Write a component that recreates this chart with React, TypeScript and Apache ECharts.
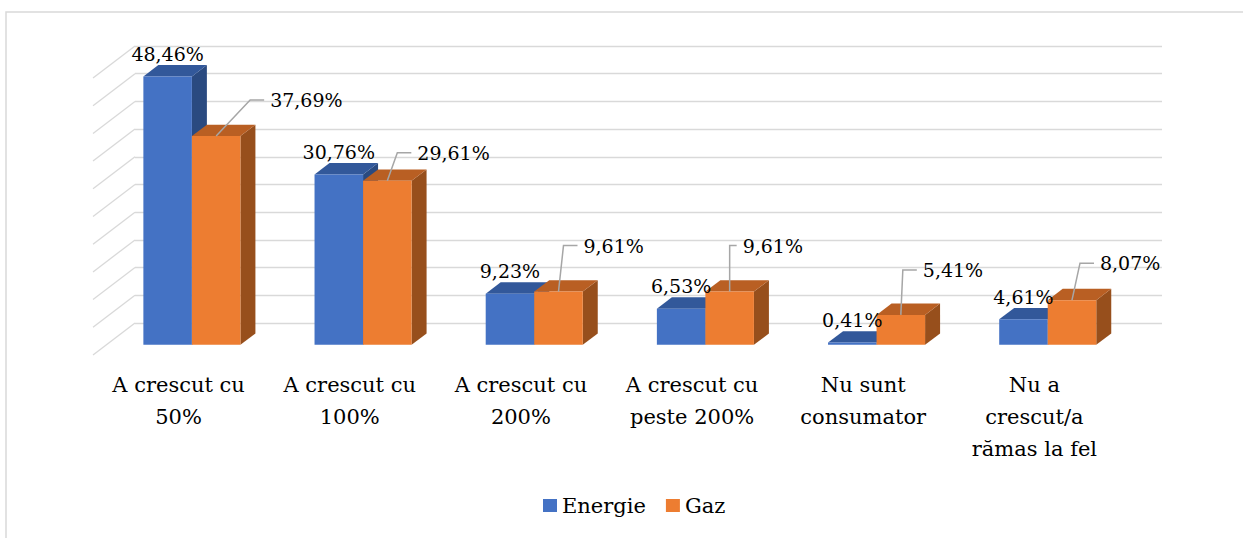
import React, { useEffect, useRef } from 'react';
import * as echarts from 'echarts';

// ---------- data ----------
const categories = [
  'A crescut cu\n50%',
  'A crescut cu\n100%',
  'A crescut cu\n200%',
  'A crescut cu\npeste 200%',
  'Nu sunt\nconsumator',
  'Nu a\ncrescut/a\nrămas la fel',
];
const seriesNames = ['Energie', 'Gaz'];
const energie = [48.46, 30.76, 9.23, 6.53, 0.41, 4.61];
const gaz = [37.69, 29.61, 9.61, 9.61, 5.41, 8.07];
const gridTicks = [0, 5, 10, 15, 20, 25, 30, 35, 40, 45, 50];

// ---------- layout / style ----------
const FONT = 'DejaVu Serif';
const DEPTH = { dx: -42, dy: 32 }; // back wall -> front edge of floor
const BAR_FRONT = 0.683;
const BAR_BACK = 0.326;
const GROUP_FRAC = 0.567;
const COLORS = [
  { front: '#4472C4', top: '#32589a', side: '#2a4a80' },
  { front: '#ED7D31', top: '#b95f23', side: '#974f1c' },
];
// manual nudges of the Gaz labels relative to the front-top centre of the bar (like Excel's placed labels)
const GAZ_LABEL_NUDGE = [
  [54, -36],
  [30, -28],
  [25, -46],
  [13, -46],
  [22, -45],
  [28, -37],
];

function fmt(v: number) {
  return v.toFixed(2).replace('.', ',') + '%';
}

function makeBarRender(s: number) {
  return (params: any, api: any) => {
    const i = api.value(0);
    const v = api.value(1);
    const base = api.coord([i, 0]);
    const top = api.coord([i, v]);
    const band = api.size([1, 0])[0];
    const w = (band * GROUP_FRAC) / 2;
    const fx = DEPTH.dx * BAR_FRONT;
    const fy = DEPTH.dy * BAR_FRONT;
    const bx = DEPTH.dx * BAR_BACK;
    const by = DEPTH.dy * BAR_BACK;
    const left = base[0] - w + s * w;
    const right = left + w;
    const c = COLORS[s];
    const yTopF = top[1] + fy;
    const yBotF = base[1] + fy;
    const yTopB = top[1] + by;
    const yBotB = base[1] + by;
    const children: any[] = [
      {
        type: 'polygon',
        shape: {
          points: [
            [right + fx, yTopF],
            [right + bx, yTopB],
            [right + bx, yBotB],
            [right + fx, yBotF],
          ],
        },
        style: { fill: c.side },
      },
      {
        type: 'polygon',
        shape: {
          points: [
            [left + fx, yTopF],
            [right + fx, yTopF],
            [right + bx, yTopB],
            [left + bx, yTopB],
          ],
        },
        style: { fill: c.top },
      },
      {
        type: 'rect',
        shape: { x: left + fx, y: yTopF, width: w, height: yBotF - yTopF },
        style: { fill: c.front },
      },
    ];
    const cx = left + fx + w / 2;
    if (s === 0) {
      children.push({
        type: 'text',
        z2: 100,
        style: {
          text: fmt(v),
          x: cx,
          y: yTopB - 11,
          align: 'center',
          verticalAlign: 'middle',
          fontSize: 19,
          fontFamily: FONT,
          fill: '#000',
        },
      });
    } else {
      const nudge = GAZ_LABEL_NUDGE[i];
      const lx = cx + nudge[0];
      const ly = yTopF + nudge[1];
      const ex = cx + Math.max(0, nudge[0] - 20);
      children.push({
        type: 'polyline',
        z2: 90,
        shape: {
          points: [
            [cx, yTopF],
            [ex, ly],
            [lx - 6, ly],
          ],
        },
        style: { stroke: '#a6a6a6', lineWidth: 1.5, fill: 'none' },
      });
      children.push({
        type: 'text',
        z2: 100,
        style: {
          text: fmt(v),
          x: lx,
          y: ly,
          align: 'left',
          verticalAlign: 'middle',
          fontSize: 19,
          fontFamily: FONT,
          fill: '#000',
        },
      });
    }
    return { type: 'group', children };
  };
}

function wallRender(params: any, api: any) {
  const v = api.value(1);
  const p = api.coord([0, v]);
  const x0 = params.coordSys.x;
  return {
    type: 'line',
    shape: { x1: x0 + DEPTH.dx, y1: p[1] + DEPTH.dy, x2: x0, y2: p[1] },
    style: { stroke: '#d9d9d9', lineWidth: 1.3 },
  };
}

export default function App() {
  const ref = useRef<HTMLDivElement>(null);
  useEffect(() => {
    if (!ref.current) return;
    const chart = echarts.init(ref.current, undefined, { renderer: 'svg' });
    chart.setOption({
      animation: false,
      backgroundColor: '#fff',
      textStyle: { fontFamily: FONT },
      graphic: [
        {
          type: 'rect',
          shape: { x: 6, y: 12, width: 1300, height: 600 },
          style: { fill: 'none', stroke: '#d9d9d9', lineWidth: 1.5 },
          silent: true,
          z: -10,
        },
      ],
      grid: [
        { left: 135, right: 81, top: 46, bottom: 215 },
        { left: 93, right: 123, top: 300, bottom: 183 },
      ],
      xAxis: [
        {
          type: 'category',
          gridIndex: 0,
          data: categories,
          axisLine: { show: false },
          axisTick: { show: false },
          axisLabel: { show: false },
        },
        {
          type: 'category',
          gridIndex: 1,
          data: categories,
          axisLine: { show: false },
          axisTick: { show: false },
          axisLabel: {
            show: true,
            interval: 0,
            margin: 14,
            fontSize: 21,
            lineHeight: 32,
            fontFamily: FONT,
            color: '#000',
          },
        },
      ],
      yAxis: [
        {
          type: 'value',
          gridIndex: 0,
          min: 0,
          max: 50,
          interval: 5,
          axisLine: { show: false },
          axisTick: { show: false },
          axisLabel: { show: false },
          splitLine: { show: true, lineStyle: { color: '#d9d9d9', width: 1.3 } },
        },
        { type: 'value', gridIndex: 1, show: false },
      ],
      legend: {
        data: seriesNames,
        left: 543,
        top: 495,
        padding: 0,
        itemGap: 20,
        itemWidth: 14,
        itemHeight: 13,
        icon: 'rect',
        textStyle: { fontSize: 21, fontFamily: FONT, color: '#000' },
      },
      series: [
        {
          type: 'custom',
          name: 'wall',
          xAxisIndex: 0,
          yAxisIndex: 0,
          silent: true,
          renderItem: wallRender,
          data: gridTicks.map((v) => [0, v]),
        },
        {
          type: 'custom',
          name: seriesNames[0],
          xAxisIndex: 0,
          yAxisIndex: 0,
          itemStyle: { color: COLORS[0].front },
          renderItem: makeBarRender(0),
          data: energie.map((v, i) => [i, v]),
        },
        {
          type: 'custom',
          name: seriesNames[1],
          xAxisIndex: 0,
          yAxisIndex: 0,
          itemStyle: { color: COLORS[1].front },
          renderItem: makeBarRender(1),
          data: gaz.map((v, i) => [i, v]),
        },
      ],
    });
    return () => chart.dispose();
  }, []);
  return (
    <div
      ref={ref}
      style={{ position: 'absolute', left: 0, top: 0, width: 1243, height: 538 }}
    />
  );
}
